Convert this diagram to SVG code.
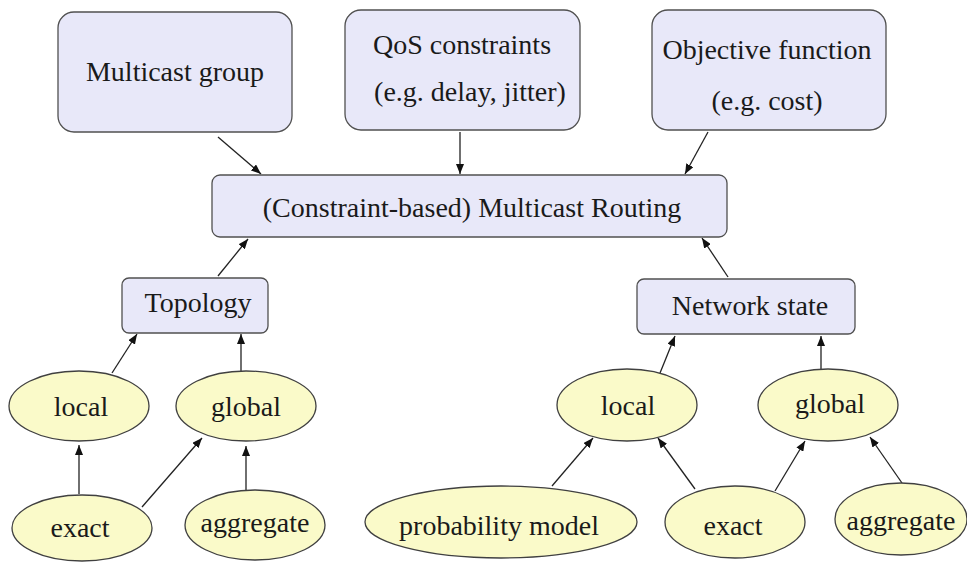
<svg xmlns="http://www.w3.org/2000/svg" width="967" height="563" viewBox="0 0 967 563">
<defs>
<style>
.box{fill:#e8e8f9;stroke:#505050;stroke-width:1.3}
.ell{fill:#fafac9;stroke:#404040;stroke-width:1.3}
.t{font-family:'Liberation Serif',Tinos,'DejaVu Serif',serif;font-size:28px;fill:#1a1a1a;text-anchor:middle}
.e{stroke:#222;stroke-width:1.3;fill:none;marker-end:url(#ah)}
</style>
<marker id="ah" markerUnits="userSpaceOnUse" markerWidth="10" markerHeight="8" viewBox="0 0 10 8" refX="10" refY="4" orient="auto">
<path d="M0,0 L10,4 L0,8 Z" fill="#111"/>
</marker>
</defs>
<rect width="967" height="563" fill="#ffffff"/>
<g id="edges">
<line class="e" x1="218" y1="137" x2="261" y2="174"/>
<line class="e" x1="460" y1="132" x2="460" y2="174"/>
<line class="e" x1="708" y1="132" x2="685" y2="174"/>
<line class="e" x1="218" y1="276" x2="248" y2="239"/>
<line class="e" x1="728" y1="277" x2="702" y2="238"/>
<line class="e" x1="112" y1="373" x2="137" y2="334"/>
<line class="e" x1="241" y1="371" x2="241" y2="334"/>
<line class="e" x1="79" y1="494" x2="79" y2="445"/>
<line class="e" x1="142" y1="507" x2="202" y2="438"/>
<line class="e" x1="246" y1="491" x2="246" y2="446"/>
<line class="e" x1="660" y1="373" x2="675" y2="336"/>
<line class="e" x1="821" y1="369" x2="821" y2="336"/>
<line class="e" x1="552" y1="486" x2="593" y2="438"/>
<line class="e" x1="695" y1="489" x2="658" y2="438"/>
<line class="e" x1="775" y1="491" x2="805" y2="441"/>
<line class="e" x1="902" y1="483" x2="870" y2="437"/>
</g>
<g id="multicast-group">
<rect class="box" x="58" y="12" width="234" height="120" rx="16"/>
<text class="t" x="175" y="81" font-family="Liberation Serif">Multicast group</text>
</g>
<g id="qos">
<rect class="box" x="345" y="10" width="235" height="120" rx="16"/>
<text class="t" x="462" y="54">QoS constraints</text>
<text class="t" x="470" y="101">(e.g. delay, jitter)</text>
</g>
<g id="objective">
<rect class="box" x="652" y="10" width="234" height="120" rx="16"/>
<text class="t" x="767" y="59">Objective function</text>
<text class="t" x="767" y="110">(e.g. cost)</text>
</g>
<g id="routing">
<rect class="box" x="212" y="175" width="515" height="62" rx="8"/>
<text class="t" x="472" y="217">(Constraint-based) Multicast Routing</text>
</g>
<g id="topology">
<rect class="box" x="122" y="278" width="146" height="55" rx="7"/>
<text class="t" x="198" y="312">Topology</text>
</g>
<g id="network-state">
<rect class="box" x="637" y="279" width="218" height="55" rx="7"/>
<text class="t" x="750" y="315">Network state</text>
</g>
<g id="t-local">
<ellipse class="ell" cx="79" cy="406" rx="70" ry="35"/>
<text class="t" x="81" y="416">local</text>
</g>
<g id="t-global">
<ellipse class="ell" cx="246" cy="406" rx="70" ry="35"/>
<text class="t" x="246" y="416">global</text>
</g>
<g id="t-exact">
<ellipse class="ell" cx="82" cy="528" rx="70" ry="33"/>
<text class="t" x="80" y="537">exact</text>
</g>
<g id="t-aggregate">
<ellipse class="ell" cx="255" cy="525" rx="70" ry="35"/>
<text class="t" x="255" y="532">aggregate</text>
</g>
<g id="n-local">
<ellipse class="ell" cx="627" cy="405" rx="70" ry="36"/>
<text class="t" x="628" y="415">local</text>
</g>
<g id="n-global">
<ellipse class="ell" cx="828" cy="405" rx="70" ry="36"/>
<text class="t" x="830" y="413">global</text>
</g>
<g id="n-probability">
<ellipse class="ell" cx="501" cy="522" rx="136" ry="36"/>
<text class="t" x="499" y="535">probability model</text>
</g>
<g id="n-exact">
<ellipse class="ell" cx="735" cy="522" rx="70" ry="36"/>
<text class="t" x="733" y="535">exact</text>
</g>
<g id="n-aggregate">
<ellipse class="ell" cx="901" cy="519" rx="66" ry="36"/>
<text class="t" x="901" y="530">aggregate</text>
</g>
</svg>
